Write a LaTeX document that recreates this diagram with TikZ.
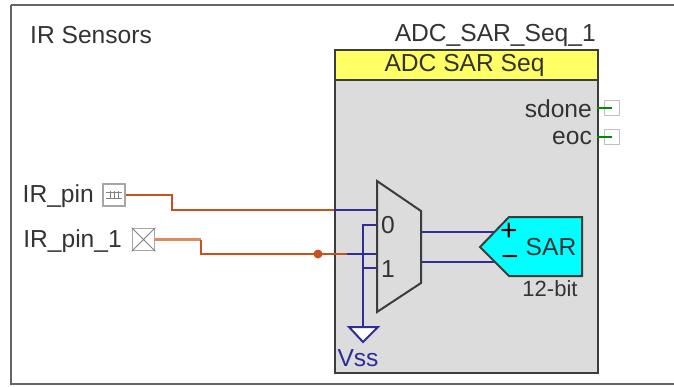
\documentclass[tikz,border=0pt]{standalone}
\usepackage{fontspec}
\setmainfont{Liberation Sans}
\definecolor{wireo}{HTML}{C8521E}
\definecolor{wirel}{HTML}{DE8A60}
\definecolor{wireb}{HTML}{2E2E96}
\definecolor{txt}{HTML}{333333}
\definecolor{edge}{HTML}{3C3C3C}
\definecolor{hdry}{HTML}{FFFF66}
\definecolor{sarc}{HTML}{00FFFF}
\definecolor{bodyg}{HTML}{DCDCDC}
\tikzset{
  lab/.style={inner sep=0pt,text=txt,font=\fontsize{24.6}{24.6}\selectfont},
  labs/.style={inner sep=0pt,text=txt,font=\fontsize{22}{22}\selectfont},
  labb/.style={inner sep=0pt,text=black,font=\fontsize{30}{30}\selectfont},
  orange wire/.style={draw=wireo,line width=2.2pt},
  blue wire/.style={draw=wireb,line width=2.2pt},
  pinbox/.style={draw=gray!70,fill=white,line width=1.6pt,minimum width=22pt,minimum height=22pt,inner sep=0pt},
  termbox/.style={draw=gray!50,fill=white,line width=1.5pt,minimum width=15pt,minimum height=15pt,inner sep=0pt},
  green wire/.style={draw=green!55!black,line width=1.5pt}
}
\begin{document}
\begin{tikzpicture}[x=1pt,y=-1pt]
\useasboundingbox (0,0) rectangle (674,386);
\draw[draw=gray!80!black,line width=2pt] (10.5,5) -- (674,5);
\draw[draw=gray!80!black,line width=2pt] (10.5,5) -- (10.5,383.5) -- (674,383.5);
% main block
\node[draw=edge,fill=bodyg,line width=2pt,minimum width=263pt,minimum height=323pt,inner sep=0pt,anchor=north west] (blk) at (334,49) {};
\node[draw=edge,fill=hdry,line width=2pt,minimum width=263pt,minimum height=30pt,inner sep=0pt,anchor=north west] (hdr) at (334,49) {};
\node[lab] (hdrt) at (464.5,65) {ADC SAR Seq};
\node[lab,anchor=east] (inst) at (596,35) {ADC\_SAR\_Seq\_1};
\node[lab,anchor=west] (sect) at (30,35) {IR Sensors};
% terminals
\node[termbox] (t1) at (612,108) {};
\node[termbox] (t2) at (612,137) {};
\coordinate (t1a) at (597,108); \coordinate (t2a) at (597,137);
\draw[green wire] (t1a) -- (t1.center);
\draw[green wire] (t2a) -- (t2.center);
\node[lab,anchor=east] (sd) at (592,109) {sdone};
\node[lab,anchor=east] (eo) at (592,138) {eoc};
% pins
\node[lab,anchor=east] (p1t) at (94,196) {IR\_pin};
\node[lab,anchor=east] (p2t) at (122,241) {IR\_pin\_1};
\node[pinbox] (p1) at (114,195) {};
\node[pinbox] (p2) at (143.5,239.5) {};
\draw[gray,line width=1pt] (p2.north west) -- (p2.south east) (p2.north east) -- (p2.south west);
\draw[gray,line width=.9pt] (106,192) -- (122,192) (106,198) -- (122,198) (110,191) -- (110,199) (114,191) -- (114,199) (118,191) -- (118,199);
% mux
\coordinate (m0i) at (377,210);
\coordinate (m1i) at (377,254);
\coordinate (g0) at (377,225);
\coordinate (g1) at (377,268);
\coordinate (bj) at (334,210);
\coordinate (oj) at (347,254);
\coordinate (gs) at (363,225);
\coordinate (gj) at (363,268);
\coordinate (gb) at (363,327);
\coordinate (mo1) at (421,232);
\coordinate (mo2) at (421,262);
\coordinate (s1) at (497,232);
\coordinate (s2) at (497,262);
\draw[blue wire] (bj) -- (m0i);
\draw[blue wire] (oj) -- (m1i);
\draw[blue wire] (g0) -- (gs) -- (gb);
\draw[blue wire] (gj) -- (g1);
\draw[blue wire] (mo1) -- (s1);
\draw[blue wire] (mo2) -- (s2);
\draw[edge,fill=bodyg,line width=2pt,line join=miter] (377,181) -- (421,211) -- (421,283) -- (377,312) -- cycle;
\node[lab] (n0) at (388,225.5) {0};
\node[lab] (n1) at (388,269) {1};
% orange wires
\draw[orange wire] (p1.east) -- (172,195) -- (172,210) -- (bj);
\draw[orange wire,draw=wirel] (p2.east) -- (201,239.5);
\draw[orange wire] (201,239.5) -- (201,254) -- (oj);
\node[circle,fill=wireo,minimum size=9pt,inner sep=0pt] (dot) at (318,254) {};
% SAR
\draw[draw=edge,fill=sarc,line width=2pt] (480,247) -- (509,217) -- (582,217) -- (582,276) -- (509,276) -- cycle;
\node[labb] (plus) at (509,232) {+};
\node[labb] (minus) at (510,261) {\textminus};
\node[lab] (sar) at (551,247.5) {SAR};
\node[labs] (bit) at (550,289) {12-bit};
% Vss
\draw[draw=wireb,fill=white,line width=2pt] (349,327) -- (378,327) -- (363,342) -- cycle;
\node[lab,text=wireb] (vss) at (358,358) {Vss};
\end{tikzpicture}
\end{document}
